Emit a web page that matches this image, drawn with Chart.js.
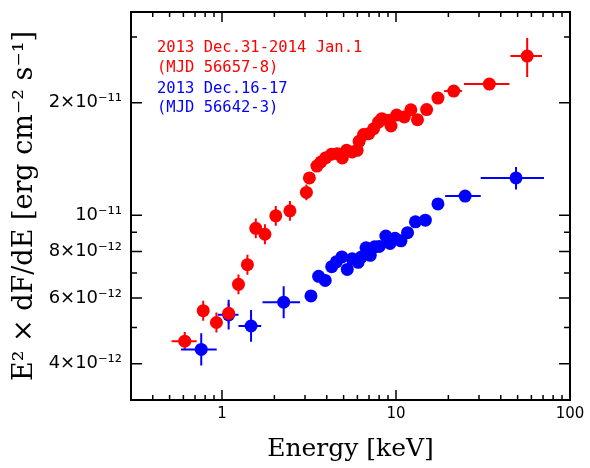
<!DOCTYPE html>
<html>
<head>
<meta charset="utf-8">
<script src="https://cdn.jsdelivr.net/npm/chart.js@4.4.1/dist/chart.umd.min.js"></script>
<style>body{margin:0;background:#fff}</style>
</head>
<body>
<canvas id="spec" width="590" height="468"></canvas>
<script>
// 2013 Dec.31-2014 Jan.1 (red)
var redE = [0.611, 0.780, 0.929, 1.092, 1.244, 1.400, 1.564, 1.765, 2.038, 2.457, 3.056, 3.179, 3.512, 3.700, 3.950,
  4.256, 4.604, 4.916, 5.199, 5.602, 5.979, 6.138, 6.511, 6.969, 7.440, 7.943, 8.293, 9.054, 9.367, 10.09,
  11.16, 12.17, 13.29, 15.00, 17.42, 21.47, 34.39, 56.75];
var redF = [4.60e-12, 5.55e-12, 5.16e-12, 5.46e-12, 6.53e-12, 7.37e-12, 9.22e-12, 8.89e-12, 9.96e-12, 10.27e-12,
  11.51e-12, 12.58e-12, 13.54e-12, 13.88e-12, 14.26e-12, 14.56e-12, 14.61e-12, 14.23e-12, 14.92e-12, 14.77e-12,
  14.92e-12, 15.77e-12, 16.44e-12, 16.53e-12, 17.04e-12, 17.76e-12, 18.13e-12, 17.95e-12, 17.33e-12, 18.54e-12,
  18.32e-12, 19.16e-12, 18.01e-12, 19.18e-12, 20.59e-12, 21.50e-12, 22.44e-12, 26.67e-12];
var redElo = [0.513, 0.730, 0.870, 1.022, 1.165, 1.311, 1.464, 1.653, 1.908, 2.30, 2.86, null, null, null, null,
  null, null, null, null, null, null, null, null, null, null, null, null, null, null, null,
  null, null, null, null, null, 18.91, 24.57, 45.44];
var redEhi = [0.715, 0.833, 0.992, 1.166, 1.329, 1.495, 1.670, 1.885, 2.177, 2.62, 3.26, null, null, null, null,
  null, null, null, null, null, null, null, null, null, null, null, null, null, null, null,
  null, null, null, null, null, 23.93, 44.84, 69.07];
var redFlo = [4.36e-12, 5.22e-12, 4.85e-12, 5.14e-12, 6.14e-12, 6.93e-12, 8.67e-12, 8.36e-12, 9.37e-12, 9.66e-12, 10.96e-12, null, null, null, null,
  null, null, null, null, null, null, null, null, null, null, null, null, null, null, null,
  null, null, null, null, null, null, null, 23.43e-12];
var redFhi = [4.87e-12, 5.90e-12, 5.49e-12, 5.80e-12, 6.94e-12, 7.83e-12, 9.80e-12, 9.45e-12, 10.59e-12, 10.92e-12, 12.09e-12, null, null, null, null,
  null, null, null, null, null, null, null, null, null, null, null, null, null, null, null,
  null, null, null, null, null, null, null, 29.80e-12];

// 2013 Dec.16-17 (blue)
var blueE = [0.760, 1.092, 1.469, 2.262, 3.246, 3.591, 3.919, 4.272, 4.544, 4.884, 5.247, 5.602, 6.058, 6.325,
  6.725, 7.115, 7.540, 8.006, 8.741, 9.245, 9.870, 10.68, 11.65, 12.94, 14.75, 17.42, 24.96, 48.96];
var blueF = [4.37e-12, 5.41e-12, 5.05e-12, 5.85e-12, 6.08e-12, 6.86e-12, 6.69e-12, 7.28e-12, 7.50e-12, 7.73e-12,
  7.16e-12, 7.64e-12, 7.48e-12, 7.73e-12, 8.18e-12, 7.81e-12, 8.23e-12, 8.25e-12, 8.79e-12, 8.40e-12,
  8.67e-12, 8.54e-12, 8.98e-12, 9.60e-12, 9.70e-12, 10.72e-12, 11.25e-12, 12.58e-12];
var blueElo = [0.582, 0.945, 1.244, 1.710, null, null, null, null, null, null, null, null, null, null,
  null, null, null, null, null, null, null, null, null, null, null, null, 19.16, 30.69];
var blueEhi = [0.933, 1.244, 1.681, 2.811, null, null, null, null, null, null, null, null, null, null,
  null, null, null, null, null, null, null, null, null, null, null, null, 30.69, 70.9];
var blueFlo = [3.96e-12, 4.94e-12, 4.58e-12, 5.30e-12, null, null, null, null, null, null, null, null, null, null,
  null, null, null, null, null, null, null, null, null, null, null, null, null, 11.72e-12];
var blueFhi = [4.83e-12, 5.94e-12, 5.57e-12, 6.45e-12, null, null, null, null, null, null, null, null, null, null,
  null, null, null, null, null, null, null, null, null, null, null, null, null, 13.46e-12];

var xTickVals = [0.4, 0.5, 0.6, 0.7, 0.8, 0.9, 1, 2, 3, 4, 5, 6, 7, 8, 9, 10, 20, 30, 40, 50, 60, 70, 80, 90, 100];
var xTickText = ['', '', '', '', '', '', '1', '', '', '', '', '', '', '', '', '10', '', '', '', '', '', '', '', '', '100'];
var yTickVals = [4e-12, 5e-12, 6e-12, 7e-12, 8e-12, 9e-12, 1e-11, 2e-11, 3e-11];
var yTickText = ['4×10⁻¹²', '', '6×10⁻¹²', '', '8×10⁻¹²', '', '10⁻¹¹', '2×10⁻¹¹', ''];

var noteLines = ['2013 Dec.31-2014 Jan.1', '(MJD 56657-8)', '2013 Dec.16-17', '(MJD 56642-3)'];
var noteColors = ['#ff0000', '#ff0000', '#0000ff', '#0000ff'];

function pts(xs, ys) {
  return xs.map(function (x, i) { return { x: x, y: ys[i] }; });
}

var errs = [
  { lo: redElo, hi: redEhi, flo: redFlo, fhi: redFhi, color: '#ff0000' },
  { lo: blueElo, hi: blueEhi, flo: blueFlo, fhi: blueFhi, color: '#0000ff' }
];

var errorBars = {
  id: 'errorBars',
  beforeDatasetsDraw: function (chart) {
    var c = chart.ctx, xs = chart.scales.x, ys = chart.scales.y;
    c.save();
    c.lineWidth = 2;
    chart.data.datasets.forEach(function (ds, k) {
      var e = errs[k];
      c.strokeStyle = e.color;
      ds.data.forEach(function (p, i) {
        var px = xs.getPixelForValue(p.x), py = ys.getPixelForValue(p.y);
        c.beginPath();
        if (e.lo[i] != null) {
          c.moveTo(xs.getPixelForValue(e.lo[i]), py);
          c.lineTo(xs.getPixelForValue(e.hi[i]), py);
        }
        if (e.flo[i] != null) {
          c.moveTo(px, ys.getPixelForValue(e.flo[i]));
          c.lineTo(px, ys.getPixelForValue(e.fhi[i]));
        }
        c.stroke();
      });
    });
    c.restore();
  }
};

var frame = {
  id: 'frame',
  afterDraw: function (chart) {
    var c = chart.ctx, a = chart.chartArea, xs = chart.scales.x, ys = chart.scales.y;
    c.save();
    c.strokeStyle = '#000';
    c.lineWidth = 1.5;
    c.beginPath();
    xTickVals.forEach(function (v, i) {
      var px = xs.getPixelForValue(v), len = xTickText[i] ? 10 : 5;
      c.moveTo(px, a.bottom); c.lineTo(px, a.bottom - len);
      c.moveTo(px, a.top); c.lineTo(px, a.top + len);
    });
    yTickVals.forEach(function (v, i) {
      var py = ys.getPixelForValue(v), len = yTickText[i] ? 11 : 6;
      c.moveTo(a.left, py); c.lineTo(a.left + len, py);
      c.moveTo(a.right, py); c.lineTo(a.right - len, py);
    });
    c.stroke();
    c.lineWidth = 2;
    c.strokeRect(a.left, a.top, a.right - a.left, a.bottom - a.top);

    c.font = '15.5px "DejaVu Sans Mono"';
    c.textBaseline = 'middle';
    var lineY = [36, 55.5, 77, 95.5];
    noteLines.forEach(function (t, i) {
      c.fillStyle = noteColors[i];
      c.fillText(t, a.left + 26, a.top + lineY[i]);
    });
    c.restore();
  }
};

new Chart(document.getElementById('spec'), {
  type: 'scatter',
  data: {
    datasets: [
      { data: pts(redE, redF), backgroundColor: '#ff0000', borderWidth: 0, pointRadius: 6.5 },
      { data: pts(blueE, blueF), backgroundColor: '#0000ff', borderWidth: 0, pointRadius: 6.5 }
    ]
  },
  options: {
    responsive: false,
    animation: false,
    layout: { padding: { top: 12, right: 20, left: 0, bottom: 0 } },
    plugins: { legend: { display: false }, tooltip: { enabled: false } },
    scales: {
      x: {
        type: 'logarithmic',
        min: 0.32,
        max: 100,
        afterBuildTicks: function (axis) {
          axis.ticks = xTickVals.map(function (v) { return { value: v }; });
        },
        afterFit: function (axis) {
          axis.height = 68;
          axis.paddingLeft = 0;
          axis.paddingRight = 0;
        },
        grid: { display: false, drawTicks: false },
        border: { display: false },
        ticks: {
          autoSkip: false,
          maxRotation: 0,
          padding: 5,
          color: '#000',
          font: { family: 'DejaVu Sans', size: 15 },
          callback: function (v, i) { return xTickText[i]; }
        },
        title: {
          display: true,
          text: 'Energy [keV]',
          color: '#000',
          font: { family: 'DejaVu Serif', size: 25 },
          padding: { top: 0, bottom: 4 }
        }
      },
      y: {
        type: 'logarithmic',
        min: 3.2e-12,
        max: 3.5e-11,
        afterBuildTicks: function (axis) {
          axis.ticks = yTickVals.map(function (v) { return { value: v }; });
        },
        afterFit: function (axis) {
          axis.width = 131;
          axis.paddingTop = 0;
          axis.paddingBottom = 0;
        },
        grid: { display: false, drawTicks: false },
        border: { display: false },
        ticks: {
          autoSkip: false,
          padding: 9,
          color: '#000',
          font: { family: 'DejaVu Sans', size: 18 },
          callback: function (v, i) { return yTickText[i]; }
        },
        title: {
          display: true,
          text: 'E² × dF/dE [erg cm⁻² s⁻¹]',
          color: '#000',
          font: { family: 'DejaVu Serif', size: 27 },
          padding: { top: 9, bottom: 0 }
        }
      }
    }
  },
  plugins: [errorBars, frame]
});
</script>
</body>
</html>
